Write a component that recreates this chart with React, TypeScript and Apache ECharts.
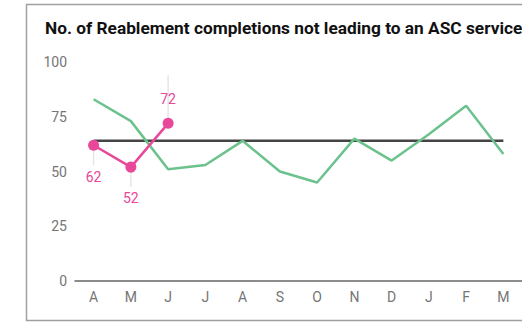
import React, { useEffect, useRef } from "react";
import * as echarts from "echarts";

const months = ["A", "M", "J", "J", "A", "S", "O", "N", "D", "J", "F", "M"];
const previousYear = [83, 73, 51, 53, 64, 50, 45, 65, 55, 67, 80, 58];
const currentYear = [62, 52, 72];
const target = [64, 64, 64, 64, 64, 64, 64, 64, 64, 64, 64, 64];
const yTicks = { min: 0, max: 100, interval: 25 };
const titleText = "No. of Reablement completions not leading to an ASC service";
// leader line direction/length per current-year label (pixels)
const leaderOffsets = [20, 20, -48];
const labelPositions = ["bottom", "bottom", "top"];

export default function App() {
  const ref = useRef<HTMLDivElement>(null);
  useEffect(() => {
    if (!ref.current) return;
    const chart = echarts.init(ref.current, null, { renderer: "svg" });
    const font = "Roboto, 'Noto Sans', sans-serif";
    chart.setOption({
      animation: false,
      textStyle: { fontFamily: font },
      title: {
        text: titleText,
        left: 45,
        top: 19,
        padding: 0,
        textStyle: { fontSize: 17.3, fontWeight: "bold", color: "#111", fontFamily: font },
      },
      graphic: [
        {
          type: "rect",
          shape: { x: 26.5, y: 4.5, width: 620, height: 316 },
          style: { fill: "none", stroke: "#a0a0a0", lineWidth: 1.5 },
          silent: true,
          z: -1,
        },
      ],
      grid: { left: 75, top: 62, width: 449, height: 219, containLabel: false },
      xAxis: {
        type: "category",
        data: months,
        boundaryGap: true,
        axisLine: { show: true, lineStyle: { color: "#666", width: 1.5 } },
        axisTick: { show: false },
        axisLabel: { color: "#757575", fontSize: 14, margin: 9, fontFamily: font, interval: 0 },
        splitLine: { show: false },
      },
      yAxis: {
        type: "value",
        min: yTicks.min,
        max: yTicks.max,
        interval: yTicks.interval,
        axisLine: { show: false },
        axisTick: { show: false },
        splitLine: { show: false },
        axisLabel: { color: "#757575", fontSize: 14, margin: 8, fontFamily: font },
      },
      series: [
        {
          type: "line",
          data: target,
          symbol: "none",
          lineStyle: { color: "#444", width: 2.5 },
          z: 2,
        },
        {
          type: "line",
          data: previousYear,
          symbol: "none",
          lineStyle: { color: "#6cc28c", width: 2.5 },
          z: 3,
        },
        {
          type: "custom",
          data: currentYear.map((v, i) => [i, v, leaderOffsets[i]]),
          renderItem: (params: any, api: any) => {
            const p = api.coord([api.value(0), api.value(1)]);
            const off = api.value(2);
            return {
              type: "line",
              shape: { x1: p[0], y1: p[1], x2: p[0], y2: p[1] + off },
              style: { stroke: "#e6e6e6", lineWidth: 1.5 },
            };
          },
          z: 1,
          silent: true,
        },
        {
          type: "line",
          data: currentYear.map((v, i) => ({
            value: v,
            label: {
              show: true,
              position: labelPositions[i],
              distance: labelPositions[i] === "top" ? 12 : i === 0 ? 19 : 18,
            },
          })),
          symbol: "circle",
          symbolSize: 11,
          itemStyle: { color: "#e8479a" },
          lineStyle: { color: "#e8479a", width: 2.5 },
          label: { color: "#e8479a", fontSize: 14, fontFamily: font },
          z: 4,
        },
      ],
    });
    return () => chart.dispose();
  }, []);
  return (
    <div style={{ position: "absolute", left: 0, top: 0, width: 522, height: 324, overflow: "hidden" }}>
      <div ref={ref} style={{ width: 522, height: 324 }} />
    </div>
  );
}
